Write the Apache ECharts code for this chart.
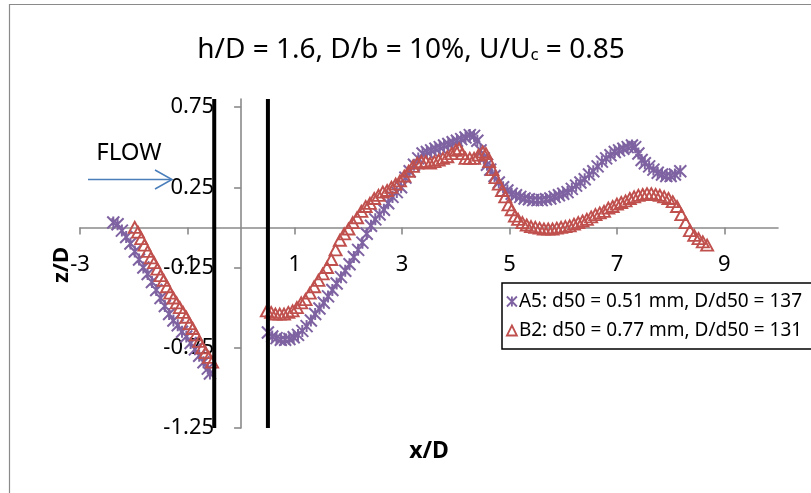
<!DOCTYPE html>
<html>
<head>
<meta charset="utf-8">
<script src="https://cdn.jsdelivr.net/npm/echarts@6/dist/echarts.min.js"></script>
<style>html,body{margin:0;padding:0;background:#fff}#c{width:811px;height:493px}</style>
</head>
<body>
<div id="c"></div>
<script>
// ---- data ----
var a5x = [-2.38,-2.30,-2.22,-2.14,-2.06,-1.98,-1.90,-1.82,-1.74,-1.66,-1.58,-1.50,-1.42,-1.34,-1.26,-1.18,-1.10,-1.02,-0.94,-0.86,-0.78,-0.70,-0.62,-0.58,
  0.50,0.58,0.66,0.74,0.82,0.90,0.98,1.06,1.14,1.22,1.30,1.38,1.46,1.54,1.62,1.70,1.78,1.86,1.94,2.02,2.10,2.18,2.26,2.34,2.42,2.50,2.58,2.66,2.74,2.82,2.90,2.98,
  3.06,3.14,3.22,3.30,3.38,3.46,3.54,3.62,3.70,3.78,3.86,3.94,4.02,4.10,4.18,4.26,4.34,4.40,4.46,4.52,4.58,4.64,4.72,4.80,4.88,4.96,
  5.04,5.12,5.20,5.28,5.36,5.44,5.52,5.60,5.68,5.76,5.84,5.92,6.00,6.08,6.16,6.24,6.32,6.40,6.48,6.56,6.64,6.72,6.80,6.88,6.96,
  7.04,7.12,7.20,7.28,7.34,7.40,7.46,7.52,7.60,7.68,7.76,7.84,7.92,8.00,8.08,8.18];
var a5z = [0.03,0.02,-0.02,-0.06,-0.10,-0.15,-0.20,-0.25,-0.29,-0.34,-0.39,-0.44,-0.49,-0.54,-0.58,-0.61,-0.65,-0.68,-0.72,-0.76,-0.80,-0.84,-0.88,-0.91,
  -0.655,-0.68,-0.69,-0.70,-0.70,-0.695,-0.685,-0.67,-0.645,-0.615,-0.58,-0.54,-0.505,-0.47,-0.43,-0.39,-0.35,-0.31,-0.27,-0.23,-0.185,-0.14,-0.095,-0.04,0.01,0.05,0.08,0.11,0.15,0.19,0.22,0.25,
  0.31,0.35,0.39,0.43,0.46,0.47,0.48,0.49,0.50,0.51,0.52,0.53,0.54,0.55,0.56,0.575,0.57,0.54,0.48,0.43,0.39,0.36,0.32,0.28,0.25,0.23,
  0.21,0.20,0.19,0.18,0.175,0.17,0.17,0.17,0.175,0.18,0.19,0.20,0.21,0.22,0.24,0.26,0.28,0.30,0.33,0.35,0.38,0.41,0.43,0.45,0.47,
  0.48,0.49,0.50,0.51,0.50,0.46,0.42,0.40,0.38,0.36,0.34,0.33,0.32,0.32,0.33,0.35];

var b2x = [-1.98,-1.92,-1.86,-1.80,-1.74,-1.68,-1.62,-1.56,-1.50,-1.44,-1.38,-1.32,-1.26,-1.20,-1.14,-1.08,-1.02,-0.96,-0.90,-0.84,-0.78,-0.72,-0.66,-0.60,-0.54,
  0.48,0.56,0.64,0.72,0.80,0.88,0.96,1.04,1.12,1.20,1.28,1.36,1.44,1.52,1.60,1.68,1.76,1.84,1.92,2.00,2.08,2.16,2.24,2.32,2.40,2.48,2.56,2.64,2.72,2.80,2.88,2.96,
  3.04,3.12,3.20,3.28,3.36,3.44,3.52,3.60,3.68,3.76,3.84,3.92,4.00,4.06,4.12,4.18,4.26,4.34,4.42,4.50,4.56,4.62,4.68,4.74,4.80,4.86,4.92,4.98,
  5.04,5.10,5.16,5.24,5.32,5.40,5.48,5.56,5.64,5.72,5.80,5.88,5.96,6.04,6.12,6.20,6.28,6.36,6.44,6.52,6.60,6.68,6.76,6.84,6.92,
  7.00,7.08,7.16,7.24,7.32,7.40,7.48,7.56,7.64,7.72,7.80,7.88,7.96,8.04,8.12,8.20,8.28,8.36,8.44,8.52,8.60,8.68];
var b2z = [0.00,-0.03,-0.07,-0.11,-0.15,-0.19,-0.22,-0.26,-0.30,-0.33,-0.37,-0.41,-0.44,-0.47,-0.50,-0.53,-0.56,-0.60,-0.63,-0.67,-0.71,-0.75,-0.78,-0.81,-0.84,
  -0.52,-0.53,-0.54,-0.54,-0.54,-0.53,-0.52,-0.50,-0.47,-0.45,-0.41,-0.37,-0.33,-0.29,-0.25,-0.20,-0.14,-0.08,-0.04,-0.01,0.03,0.06,0.10,0.13,0.15,0.18,0.20,0.22,0.23,0.25,0.27,0.29,
  0.32,0.35,0.38,0.40,0.41,0.41,0.40,0.41,0.42,0.43,0.44,0.46,0.48,0.49,0.46,0.43,0.43,0.43,0.45,0.47,0.46,0.41,0.36,0.31,0.27,0.23,0.19,0.14,
  0.11,0.07,0.05,0.03,0.015,0.005,0.0,-0.005,-0.01,-0.01,-0.01,-0.005,0.0,0.005,0.01,0.02,0.03,0.04,0.05,0.065,0.08,0.09,0.10,0.12,0.13,
  0.145,0.155,0.165,0.18,0.19,0.20,0.205,0.21,0.21,0.205,0.20,0.19,0.18,0.16,0.13,0.08,0.03,-0.02,-0.05,-0.07,-0.09,-0.11];

var seriesNames = ['A5: d50 = 0.51 mm, D/d50 = 137', 'B2: d50 = 0.77 mm, D/d50 = 131'];
var pierEdges = [-0.5, 0.5];
var pierZ = [-1.25, 0.8];
var xRange = [-3, 10];
var zRange = [-1.25, 0.8];
var xTicks = [-3, -1, 1, 3, 5, 7, 9];
var yTicks = [-1.25, -0.75, -0.25, 0.25, 0.75];
var titleText = 'h/D = 1.6, D/b = 10%, U/U';
var titleSub = 'c';
var titleTail = ' = 0.85';

function zip(xs, zs) { return xs.map(function (v, i) { return [v, zs[i]]; }); }

var FONT = 'Noto Sans';
var purple = '#7E62A1';
var red = '#C0504D';
var axisGray = '#8A8A8A';
var starPath = 'path://M0,0L10,10M10,0L0,10M5,0L5,10';

// grid geometry (layout only)
var W = 811, H = 493;
var gLeft = 80, gRight = 33, gTop = 99, gBottom = 65;
var gW = W - gLeft - gRight, gH = H - gTop - gBottom;
// shift axes so they cross at the origin (as in the reference)
var yAxisShift = -gW * (0 - xRange[0]) / (xRange[1] - xRange[0]);
var xAxisShift = -gH * (0 - zRange[0]) / (zRange[1] - zRange[0]);

var chart = echarts.init(document.getElementById('c'), null, {renderer: 'canvas'});

var series = [
  {
    name: seriesNames[0], type: 'scatter', data: zip(a5x, a5z),
    symbol: starPath, symbolSize: 12, z: 3,
    itemStyle: {color: 'rgba(0,0,0,0)', borderColor: purple, borderWidth: 2, opacity: 1}
  },
  {
    name: seriesNames[1], type: 'scatter', data: zip(b2x, b2z),
    symbol: 'triangle', symbolSize: [12, 11], z: 4,
    itemStyle: {color: 'rgba(0,0,0,0)', borderColor: red, borderWidth: 1.9, opacity: 1}
  }
];
pierEdges.forEach(function (px) {
  series.push({
    type: 'line', data: pierZ.map(function (zz) { return [px, zz]; }),
    showSymbol: false, symbol: 'none', z: 5, silent: true,
    lineStyle: {color: '#000', width: 4}
  });
});

chart.setOption({
  animation: false,
  backgroundColor: '#fff',
  grid: {left: gLeft, right: gRight, top: gTop, bottom: gBottom, containLabel: false},
  xAxis: {
    type: 'value', min: xRange[0], max: xRange[1], interval: 1,
    position: 'bottom', offset: xAxisShift,
    axisLine: {onZero: false, lineStyle: {color: axisGray, width: 1.6}},
    axisTick: {show: true, length: 7, lineStyle: {color: axisGray, width: 1.6}, customValues: xTicks},
    axisLabel: {fontFamily: FONT, fontSize: 22, color: '#000', margin: 26, customValues: xTicks},
    splitLine: {show: false}
  },
  yAxis: {
    type: 'value', min: zRange[0], max: zRange[1], interval: 0.5,
    position: 'left', offset: yAxisShift,
    axisLine: {show: true, onZero: false, lineStyle: {color: axisGray, width: 1.6}},
    axisTick: {show: true, length: 7, lineStyle: {color: axisGray, width: 1.6}, customValues: yTicks},
    axisLabel: {fontFamily: FONT, fontSize: 22, color: '#000', margin: 27, customValues: yTicks,
      formatter: function (v) { return String(v); }},
    splitLine: {show: false}
  },
  legend: {
    orient: 'vertical', left: 502, top: 283,
    borderColor: '#000', borderWidth: 1.5, borderRadius: 0,
    padding: [9, 20, 9, 4], itemGap: 10, itemWidth: 10, itemHeight: 10,
    backgroundColor: '#fff',
    textStyle: {fontFamily: FONT, fontSize: 19, color: '#000', padding: [0, 0, 0, -3]},
    data: [
      {name: seriesNames[0], icon: starPath, itemStyle: {color: 'rgba(0,0,0,0)', borderColor: purple, borderWidth: 1.8}},
      {name: seriesNames[1], icon: 'triangle', itemStyle: {color: 'rgba(0,0,0,0)', borderColor: red, borderWidth: 1.8}}
    ]
  },
  series: series,
  graphic: [
    {type: 'rect', shape: {x: 9.5, y: 4.5, width: 900, height: 700}, style: {fill: 'none', stroke: axisGray, lineWidth: 1.2}, z: -10, silent: true},
    {type: 'text', x: 411, y: 47, style: {
      text: '{a|' + titleText + '}{s|' + titleSub + '}{a|' + titleTail + '}',
      align: 'center', verticalAlign: 'middle',
      rich: {
        a: {fontFamily: FONT, fontSize: 28, fill: '#000', lineHeight: 34, verticalAlign: 'bottom'},
        s: {fontFamily: FONT, fontSize: 17, fill: '#000', lineHeight: 17, verticalAlign: 'bottom'}
      }
    }},
    {type: 'text', x: 129, y: 153, style: {text: 'FLOW', fontFamily: FONT, fontSize: 24, fill: '#000', align: 'center', verticalAlign: 'middle'}},
    {type: 'polyline', shape: {points: [[88, 179.5], [171, 179.5]]}, style: {stroke: '#4A7EBB', lineWidth: 1.5, fill: 'none'}},
    {type: 'polyline', shape: {points: [[155, 170], [172, 179.5], [155, 189]]}, style: {stroke: '#4A7EBB', lineWidth: 1.5, fill: 'none'}},
    {type: 'text', x: 62, y: 265, rotation: Math.PI / 2, style: {text: 'z/D', fontFamily: FONT, fontSize: 22, fontWeight: 'bold', fill: '#000', align: 'center', verticalAlign: 'middle'}},
    {type: 'text', x: 429, y: 451, style: {text: 'x/D', fontFamily: FONT, fontSize: 23, fontWeight: 'bold', fill: '#000', align: 'center', verticalAlign: 'middle'}}
  ]
});
</script>
</body>
</html>
